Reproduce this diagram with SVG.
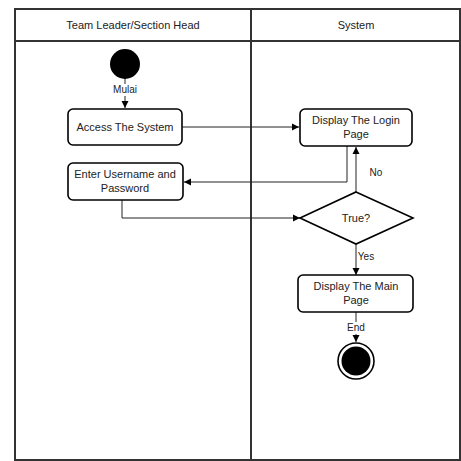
<svg xmlns="http://www.w3.org/2000/svg" width="461" height="461" viewBox="0 0 461 461">
<defs>
<marker id="arr" markerWidth="8" markerHeight="8" refX="7" refY="4" orient="auto" markerUnits="userSpaceOnUse">
<path d="M0,0.5 L7,4 L0,7.5 Z" fill="#000"/>
</marker>
<style>
.lane{fill:none;stroke:#333;stroke-width:2}
.box{fill:#fff;stroke:#000;stroke-width:1.6}
.t{font-family:"Liberation Sans",Arial,sans-serif;font-size:11px;fill:#222;text-anchor:middle}
.lbl{font-family:"Liberation Sans",Arial,sans-serif;font-size:10px;fill:#222;text-anchor:middle}
.bg{fill:#fff;stroke:none}
.c{fill:none;stroke:#222;stroke-width:1;marker-end:url(#arr)}
</style>
</defs>
<rect width="461" height="461" fill="#fff"/>
<g id="lanes">
<rect class="lane" x="15" y="9" width="445" height="451"/>
<line class="lane" x1="15" y1="41" x2="460" y2="41"/>
<line class="lane" x1="251" y1="9" x2="251" y2="460"/>
<text class="t" x="133" y="29">Team Leader/Section Head</text>
<text class="t" x="356" y="29">System</text>
</g>
<g id="connectors">
<path class="c" d="M125,79 L125,108"/>
<rect class="bg" x="111" y="84" width="28" height="12"/>
<text class="lbl" x="125" y="93">Mulai</text>
<path class="c" d="M182,127 L299,127"/>
<path class="c" d="M347,146 L347,182 L184,182"/>
<path class="c" d="M356,192 L356,147"/>
<text class="lbl" x="376" y="176">No</text>
<path class="c" d="M122,200 L122,218 L300,218"/>
<path class="c" d="M356,244 L356,275"/>
<text class="lbl" x="366" y="260">Yes</text>
<path class="c" d="M356,312 L356,342"/>
<rect class="bg" x="345" y="322" width="22" height="12"/>
<text class="lbl" x="356" y="331">End</text>
</g>
<g id="start">
<circle cx="125" cy="64" r="15" fill="#000"/>
</g>
<g id="access">
<rect class="box" x="68" y="109" width="114" height="36" rx="5"/>
<text class="t" x="125" y="131">Access The System</text>
</g>
<g id="login">
<rect class="box" x="300" y="109" width="112" height="37" rx="5"/>
<text class="t" x="356" y="124">Display The Login</text>
<text class="t" x="356" y="138">Page</text>
</g>
<g id="enter">
<rect class="box" x="68" y="163" width="115" height="37" rx="5"/>
<text class="t" x="125" y="178">Enter Username and</text>
<text class="t" x="125" y="192">Password</text>
</g>
<g id="decision">
<polygon class="box" points="356,192 413,218 356,244 300,218" stroke-width="2"/>
<text class="t" x="356" y="222">True?</text>
</g>
<g id="main">
<rect class="box" x="298" y="275" width="115" height="37" rx="5"/>
<text class="t" x="356" y="290">Display The Main</text>
<text class="t" x="356" y="304">Page</text>
</g>
<g id="end">
<circle cx="356" cy="361" r="18" fill="#fff" stroke="#000" stroke-width="1.6"/>
<circle cx="356" cy="361" r="14.5" fill="#000"/>
</g>
</svg>
